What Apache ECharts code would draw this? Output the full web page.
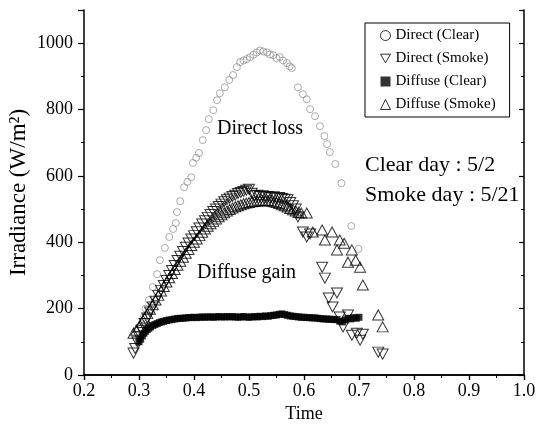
<!DOCTYPE html>
<html>
<head>
<meta charset="utf-8">
<script src="https://cdn.jsdelivr.net/npm/echarts@6/dist/echarts.min.js"></script>
<style>
  html, body { margin: 0; padding: 0; background: #fff; }
  #chart { width: 538px; height: 433px; }
</style>
</head>
<body>
<div id="chart"></div>
<script>
// Direct irradiance, clear day (5/2)
const directClearT = [0.300,0.304,0.308,0.312,0.318,0.325,0.333,0.338,0.347,0.355,0.362,0.367,0.369,0.375,0.382,0.388,0.395,0.398,0.404,0.409,0.416,0.422,0.427,0.435,0.442,0.447,0.456,0.464,0.471,0.478,0.484,0.490,0.496,0.502,0.508,0.514,0.520,0.526,0.533,0.538,0.544,0.550,0.556,0.562,0.569,0.574,0.578,0.589,0.598,0.605,0.611,0.620,0.629,0.637,0.642,0.647,0.657,0.668,0.686,0.699];
const directClearV = [110,140,172,200,226,265,304,346,383,416,440,458,491,524,566,582,596,639,655,669,708,738,771,798,828,849,867,889,904,928,943,948,952,958,965,972,978,975,972,966,964,955,958,948,940,930,925,867,846,831,801,780,750,720,696,672,636,578,449,380];

// Direct irradiance, smoke day (5/21)
const directSmokeT = [0.290,0.293,0.297,0.300,0.305,0.310,0.315,0.320,0.325,0.330,0.335,0.340,0.345,0.350,0.355,0.360,0.365,0.370,0.375,0.380,0.385,0.390,0.395,0.400,0.405,0.410,0.415,0.420,0.425,0.430,0.435,0.440,0.445,0.450,0.455,0.460,0.465,0.470,0.475,0.480,0.485,0.490,0.495,0.500,0.505,0.510,0.515,0.520,0.525,0.530,0.535,0.540,0.545,0.550,0.555,0.560,0.565,0.570,0.575,0.580,0.585,0.589,0.598,0.605,0.611,0.633,0.638,0.645,0.652,0.660,0.665,0.671,0.680,0.687,0.696,0.702,0.707,0.735,0.743];
const directSmokeV = [66,80,100,115,135,155,172,190,205,222,240,255,270,285,300,315,330,345,358,372,385,398,410,420,432,443,455,465,475,484,493,500,508,515,522,528,533,538,542,547,550,553,557,560,548,540,542,538,540,536,538,535,537,533,535,532,530,528,520,510,500,476,431,416,425,325,292,232,205,247,175,145,181,120,126,105,123,69,63];

// Diffuse irradiance, clear day (5/2)
const diffuseClearT = [0.300,0.303,0.306,0.309,0.312,0.315,0.318,0.321,0.325,0.329,0.333,0.337,0.341,0.345,0.350,0.355,0.360,0.365,0.370,0.375,0.380,0.385,0.390,0.395,0.400,0.405,0.410,0.415,0.420,0.425,0.430,0.435,0.440,0.445,0.450,0.455,0.460,0.465,0.470,0.475,0.480,0.485,0.490,0.495,0.500,0.505,0.510,0.515,0.520,0.525,0.530,0.535,0.540,0.545,0.550,0.555,0.560,0.565,0.570,0.575,0.580,0.585,0.590,0.595,0.600,0.605,0.610,0.615,0.620,0.625,0.630,0.635,0.640,0.645,0.650,0.655,0.660,0.665,0.670,0.675,0.680,0.685,0.690,0.695,0.700];
const diffuseClearV = [100,108,118,126,132,137,141,145,149,152,155,158,160,162,164,166,167,169,170,171,171,172,173,173,174,173,174,175,174,175,175,174,175,176,175,175,176,175,176,175,174,175,176,175,174,175,176,175,177,176,178,177,179,180,181,183,184,182,180,178,177,176,175,174,174,173,173,172,172,171,170,169,169,168,168,167,167,162,160,166,171,169,173,171,174];

// Diffuse irradiance, smoke day (5/21)
const diffuseSmokeT = [0.290,0.295,0.300,0.305,0.310,0.315,0.320,0.325,0.330,0.335,0.340,0.345,0.350,0.355,0.360,0.365,0.370,0.375,0.380,0.385,0.390,0.395,0.400,0.405,0.410,0.415,0.420,0.425,0.430,0.435,0.440,0.445,0.450,0.455,0.460,0.465,0.470,0.475,0.480,0.485,0.490,0.495,0.500,0.505,0.510,0.515,0.520,0.525,0.530,0.535,0.540,0.545,0.550,0.555,0.560,0.565,0.570,0.575,0.580,0.585,0.590,0.595,0.605,0.616,0.633,0.638,0.651,0.660,0.665,0.673,0.680,0.687,0.694,0.702,0.707,0.735,0.743];
const diffuseSmokeV = [126,135,145,158,172,185,198,212,226,240,253,267,280,293,306,318,331,343,355,367,378,390,400,410,420,430,440,448,456,463,470,477,483,489,494,499,503,507,510,513,516,518,520,522,523,524,525,525,526,525,524,522,520,517,513,510,506,502,498,494,490,488,488,431,437,407,431,377,407,397,340,377,346,325,271,181,145];

const xTicks = [0.2, 0.3, 0.4, 0.5, 0.6, 0.7, 0.8, 0.9, 1.0];
const yTicks = [0, 200, 400, 600, 800, 1000];

const seriesNames = ['Direct (Clear)', 'Direct (Smoke)', 'Diffuse (Clear)', 'Diffuse (Smoke)'];
const notes = ['Direct loss', 'Diffuse gain', 'Clear day : 5/2', 'Smoke day : 5/21'];

const FONT = 'Liberation Serif';
const downTri = 'path://M0,0L20,0L10,17.3Z';

function pairs(t, v) { return t.map((x, i) => [x, v[i]]); }

const chart = echarts.init(document.getElementById('chart'), null, { renderer: 'canvas' });

const baseAxisLine = { show: true, lineStyle: { color: '#000', width: 1.5 } };

chart.setOption({
  animation: false,
  backgroundColor: '#fff',
  grid: { left: 84, right: 14, top: 10, bottom: 58, containLabel: false, outerBoundsMode: 'none' },
  xAxis: [{
    type: 'value', min: 0.2, max: 1.0, interval: 0.1, position: 'bottom',
    name: 'Time', nameLocation: 'middle', nameGap: 27,
    nameTextStyle: { fontFamily: FONT, fontSize: 18, color: '#000' },
    axisLine: baseAxisLine,
    axisTick: { show: true, inside: false, length: 5, lineStyle: { color: '#000', width: 1.2 } },
    minorTick: { show: true, splitNumber: 2, length: 3, lineStyle: { color: '#000', width: 1 } },
    splitLine: { show: false },
    axisLabel: { fontFamily: FONT, fontSize: 18, color: '#000', margin: 7,
      formatter: v => { const t = xTicks.find(k => Math.abs(k - v) < 1e-6); return t === undefined ? '' : t.toFixed(1); } }
  }, {
    type: 'value', min: 0.2, max: 1.0, interval: 0.1, position: 'top',
    axisLine: baseAxisLine,
    axisTick: { show: true, inside: true, length: 5, lineStyle: { color: '#000', width: 1.2 } },
    minorTick: { show: true, splitNumber: 2, length: 3, lineStyle: { color: '#000', width: 1 } },
    splitLine: { show: false }, axisLabel: { show: false }
  }],
  yAxis: [{
    type: 'value', min: 0, max: 1100, interval: 200, position: 'left',
    name: 'Irradiance (W/m²)', nameLocation: 'middle', nameGap: 54, nameRotate: 90,
    nameMoveOverlap: false,
    nameTextStyle: { fontFamily: FONT, fontSize: 23, color: '#000' },
    axisLine: baseAxisLine,
    axisTick: { show: true, inside: false, length: 6, lineStyle: { color: '#000', width: 1.2 } },
    minorTick: { show: true, splitNumber: 2, length: 3, lineStyle: { color: '#000', width: 1 } },
    splitLine: { show: false },
    axisLabel: { fontFamily: FONT, fontSize: 18, color: '#000', margin: 11,
      formatter: v => (yTicks.indexOf(v) >= 0 ? String(v) : '') }
  }, {
    type: 'value', min: 0, max: 1100, interval: 200, position: 'right',
    axisLine: baseAxisLine,
    axisTick: { show: true, inside: true, length: 5, lineStyle: { color: '#000', width: 1.2 } },
    minorTick: { show: true, splitNumber: 2, length: 3, lineStyle: { color: '#000', width: 1 } },
    splitLine: { show: false }, axisLabel: { show: false }
  }],
  legend: {
    orient: 'vertical', left: 365, top: 23,
    padding: [5, 14, 5, 15], itemGap: 8, itemWidth: 10, itemHeight: 10,
    borderColor: '#000', borderWidth: 1, backgroundColor: '#fff',
    textStyle: { fontFamily: FONT, fontSize: 15, color: '#000' },
    data: [
      { name: seriesNames[0], icon: 'circle', itemStyle: { color: '#fff', borderColor: '#000', borderWidth: 1 } },
      { name: seriesNames[1], icon: downTri, itemStyle: { color: '#fff', borderColor: '#000', borderWidth: 1 } },
      { name: seriesNames[2], icon: 'rect', itemStyle: { color: '#000', borderWidth: 0 } },
      { name: seriesNames[3], icon: 'triangle', itemStyle: { color: '#fff', borderColor: '#000', borderWidth: 1 } }
    ]
  },
  graphic: [
    { type: 'text', left: 217, top: 119, style: { text: notes[0], font: '20px "Liberation Serif"', fill: '#000' } },
    { type: 'text', left: 197, top: 263, style: { text: notes[1], font: '20px "Liberation Serif"', fill: '#000' } },
    { type: 'text', left: 365, top: 154, style: { text: notes[2], font: '22px "Liberation Serif"', fill: '#000' } },
    { type: 'text', left: 365, top: 184, style: { text: notes[3], font: '22px "Liberation Serif"', fill: '#000' } }
  ],
  series: [
    { name: seriesNames[0], type: 'scatter', data: pairs(directClearT, directClearV),
      symbol: 'circle', symbolSize: 7,
      itemStyle: { color: 'transparent', borderColor: '#8a8a8a', borderWidth: 0.9 } },
    { name: seriesNames[2], type: 'scatter', data: pairs(diffuseClearT, diffuseClearV),
      symbol: 'rect', symbolSize: 7,
      itemStyle: { color: '#000' } },
    { name: seriesNames[1], type: 'scatter', data: pairs(directSmokeT, directSmokeV),
      symbol: downTri, symbolSize: [11, 10],
      itemStyle: { color: 'transparent', borderColor: '#000', borderWidth: 1 } },
    { name: seriesNames[3], type: 'scatter', data: pairs(diffuseSmokeT, diffuseSmokeV),
      symbol: 'triangle', symbolSize: [11, 10],
      itemStyle: { color: 'transparent', borderColor: '#000', borderWidth: 1 } }
  ]
});
</script>
</body>
</html>
